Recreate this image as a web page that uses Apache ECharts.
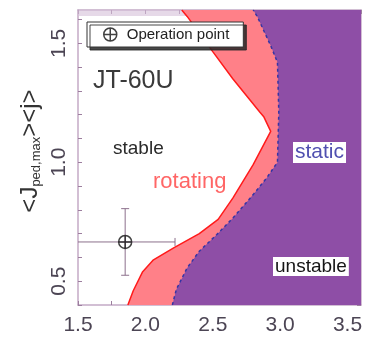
<!DOCTYPE html>
<html>
<head>
<meta charset="utf-8">
<script src="https://cdn.jsdelivr.net/npm/echarts@6/dist/echarts.min.js"></script>
<style>
  html, body { margin: 0; padding: 0; background: #fff; }
  #chart { width: 375px; height: 345px; }
</style>
</head>
<body>
<div id="chart"></div>
<script>
// Axis ranges
const xRange = [1.5, 3.6];
const yRange = [0.4, 1.64];

// Stable / rotating boundary (red line), x = f(y)
const rotX = [1.87, 1.91, 1.98, 2.06, 2.21, 2.40, 2.54, 2.65, 2.80, 2.93, 2.88, 2.85, 2.65, 2.50, 2.31, 2.27];
const rotY = [0.40, 0.46, 0.54, 0.59, 0.64, 0.70, 0.76, 0.85, 0.99, 1.13, 1.19, 1.21, 1.35, 1.465, 1.613, 1.64];

// Rotating / static boundary (blue dashed line)
const staX = [2.20, 2.23, 2.31, 2.40, 2.53, 2.65, 2.80, 2.90, 2.98, 2.99, 2.98, 2.93, 2.83, 2.80];
const staY = [0.40, 0.466, 0.556, 0.626, 0.696, 0.766, 0.864, 0.934, 1.00, 1.21, 1.42, 1.49, 1.613, 1.64];

// Operation point with error bars
const opX = [1.85];
const opY = [0.665];
const opXErr = [0.37];
const opYErr = [0.14];

// Tick label values shown on the axes
const xTickLabels = [1.5, 2.0, 2.5, 3.0, 3.5];
const yTickLabels = [0.5, 1.0, 1.5];

const zip = (xs, ys) => xs.map((x, i) => [x, ys[i]]);
const rotPts = zip(rotX, rotY);
const staPts = zip(staX, staY);

function hasLabel(list, v) {
  return list.some(t => Math.abs(t - v) < 1e-6);
}

// Region polygon: boundary curve closed along the right edge of the plot
function regionSeries(pts, color, z) {
  return {
    type: 'custom',
    z: z,
    silent: true,
    data: [0],
    renderItem: function (params, api) {
      const poly = pts.map(p => api.coord(p));
      poly.push(api.coord([xRange[1], yRange[1]]));
      poly.push(api.coord([xRange[1], yRange[0]]));
      return { type: 'polygon', shape: { points: poly }, style: { fill: color } };
    }
  };
}

const axisColor = '#c4aac6';
const tickColor = '#9c7e9e';
const labelColor = '#4c4554';
const fontFam = '"Liberation Sans", Arial, sans-serif';

function xAxisCfg(pos, showLabels) {
  return {
    type: 'value', position: pos, min: xRange[0], max: xRange[1], interval: 0.25,
    axisLine: { show: true, onZero: false, lineStyle: { color: axisColor, width: 1.5 } },
    axisTick: { show: true, inside: true, length: 4, lineStyle: { color: tickColor } },
    splitLine: { show: false },
    axisLabel: {
      show: showLabels, margin: 10, color: labelColor, fontSize: 21, fontFamily: fontFam,
      showMaxLabel: false,
      formatter: v => hasLabel(xTickLabels, v) ? v.toFixed(1) : ''
    }
  };
}
function yAxisCfg(pos, showLabels) {
  return {
    type: 'value', position: pos, min: yRange[0], max: yRange[1], interval: 0.1,
    axisLine: { show: true, onZero: false, lineStyle: { color: axisColor, width: 1.5 } },
    axisTick: { show: true, inside: true, length: 4, lineStyle: { color: tickColor } },
    splitLine: { show: false },
    axisLabel: {
      show: showLabels, margin: 8, rotate: 90, color: labelColor, fontSize: 21, fontFamily: fontFam,
      showMaxLabel: false,
      formatter: v => hasLabel(yTickLabels, v) ? v.toFixed(1) : ''
    }
  };
}

const opSymbol = 'path://M0,12A12,12,0,1,0,24,12A12,12,0,1,0,0,12ZM12,0L12,24M0,12L24,12';

const chart = echarts.init(document.getElementById('chart'), null, { renderer: 'canvas' });
chart.setOption({
  animation: false,
  backgroundColor: '#ffffff',
  grid: { left: 78, right: 14, top: 10, bottom: 40 },
  xAxis: [xAxisCfg('bottom', true), xAxisCfg('top', false)],
  yAxis: [yAxisCfg('left', true), yAxisCfg('right', false)],
  legend: {
    left: 87, top: 22,
    data: [{ name: 'Operation point', icon: opSymbol }],
    backgroundColor: '#ffffff',
    borderColor: '#333', borderWidth: 1,
    shadowColor: 'rgba(40,40,40,0.85)', shadowBlur: 0, shadowOffsetX: 3, shadowOffsetY: 3,
    padding: [5, 14, 5, 16],
    itemWidth: 13, itemHeight: 13,
    itemStyle: { color: 'rgba(0,0,0,0)', borderColor: '#111', borderWidth: 1.5 },
    textStyle: { color: '#222', fontSize: 15, fontFamily: fontFam, padding: [0, 0, 0, 5] }
  },
  graphic: [
    { type: 'text', left: 93, top: 69, style: { text: 'JT-60U', fill: '#3a3a3a', font: '25px ' + fontFam } },
    { type: 'text', left: 113, top: 139, style: { text: 'stable', fill: '#2a2a2a', font: '19px ' + fontFam } },
    { type: 'text', left: 153, top: 171, style: { text: 'rotating', fill: '#ff6666', font: '22px ' + fontFam } },
    { type: 'text', left: 293, top: 142, z: 10, style: { text: 'static', fill: '#5050b0', font: '21px ' + fontFam, backgroundColor: '#ffffff', padding: [0, 2, 0, 2] } },
    { type: 'text', left: 273, top: 257, z: 10, style: { text: 'unstable', fill: '#151515', font: '19px ' + fontFam, backgroundColor: '#ffffff', padding: [0, 2, 0, 2] } },
    {
      type: 'text', x: 30, y: 151, rotation: Math.PI / 2,
      style: {
        text: '{a|<J}{s|ped,max}{a|><j>}',
        fill: '#333', align: 'center', verticalAlign: 'middle',
        rich: {
          a: { fontSize: 24, fontFamily: fontFam, fill: '#333', lineHeight: 26, verticalAlign: 'middle' },
          s: { fontSize: 13, fontFamily: fontFam, fill: '#333', verticalAlign: 'bottom', lineHeight: 26 }
        }
      }
    }
  ],
  series: [
    regionSeries(rotPts, '#ff8088', 1),
    regionSeries(staPts, '#8e4ea6', 2),
    {
      type: 'line', z: 3, data: rotPts, symbol: 'none', silent: true,
      lineStyle: { color: '#ff1a1a', width: 1.5 }
    },
    {
      type: 'line', z: 3, data: staPts, symbol: 'none', silent: true,
      lineStyle: { color: '#3535a5', width: 1.5, type: [3, 3] },
      markArea: {
        silent: true,
        itemStyle: { color: 'rgba(214,192,216,0.6)' },
        data: [[{ yAxis: 1.615, xAxis: xRange[0] }, { yAxis: yRange[1], xAxis: xRange[1] }]]
      }
    },
    {
      type: 'custom', z: 4, silent: true,
      data: opX.map((x, i) => [x, opY[i], opXErr[i], opYErr[i]]),
      renderItem: function (params, api) {
        const x = api.value(0), y = api.value(1), ex = api.value(2), ey = api.value(3);
        const left = api.coord([Math.max(x - ex, xRange[0]), y]);
        const right = api.coord([x + ex, y]);
        const top = api.coord([x, y + ey]);
        const bot = api.coord([x, y - ey]);
        const cap = 4;
        const st = { stroke: '#8c708c', lineWidth: 1 };
        return {
          type: 'group',
          children: [
            { type: 'line', shape: { x1: left[0], y1: left[1], x2: right[0], y2: right[1] }, style: st },
            { type: 'line', shape: { x1: top[0], y1: top[1], x2: bot[0], y2: bot[1] }, style: st },
            { type: 'line', shape: { x1: top[0] - cap, y1: top[1], x2: top[0] + cap, y2: top[1] }, style: st },
            { type: 'line', shape: { x1: bot[0] - cap, y1: bot[1], x2: bot[0] + cap, y2: bot[1] }, style: st },
            { type: 'line', shape: { x1: right[0], y1: right[1] - cap, x2: right[0], y2: right[1] + cap }, style: st }
          ]
        };
      }
    },
    {
      name: 'Operation point', type: 'scatter', z: 5,
      data: zip(opX, opY),
      symbol: opSymbol, symbolSize: 13,
      itemStyle: { color: 'rgba(0,0,0,0)', borderColor: '#111', borderWidth: 1.5 }
    }
  ]
});
</script>
</body>
</html>
